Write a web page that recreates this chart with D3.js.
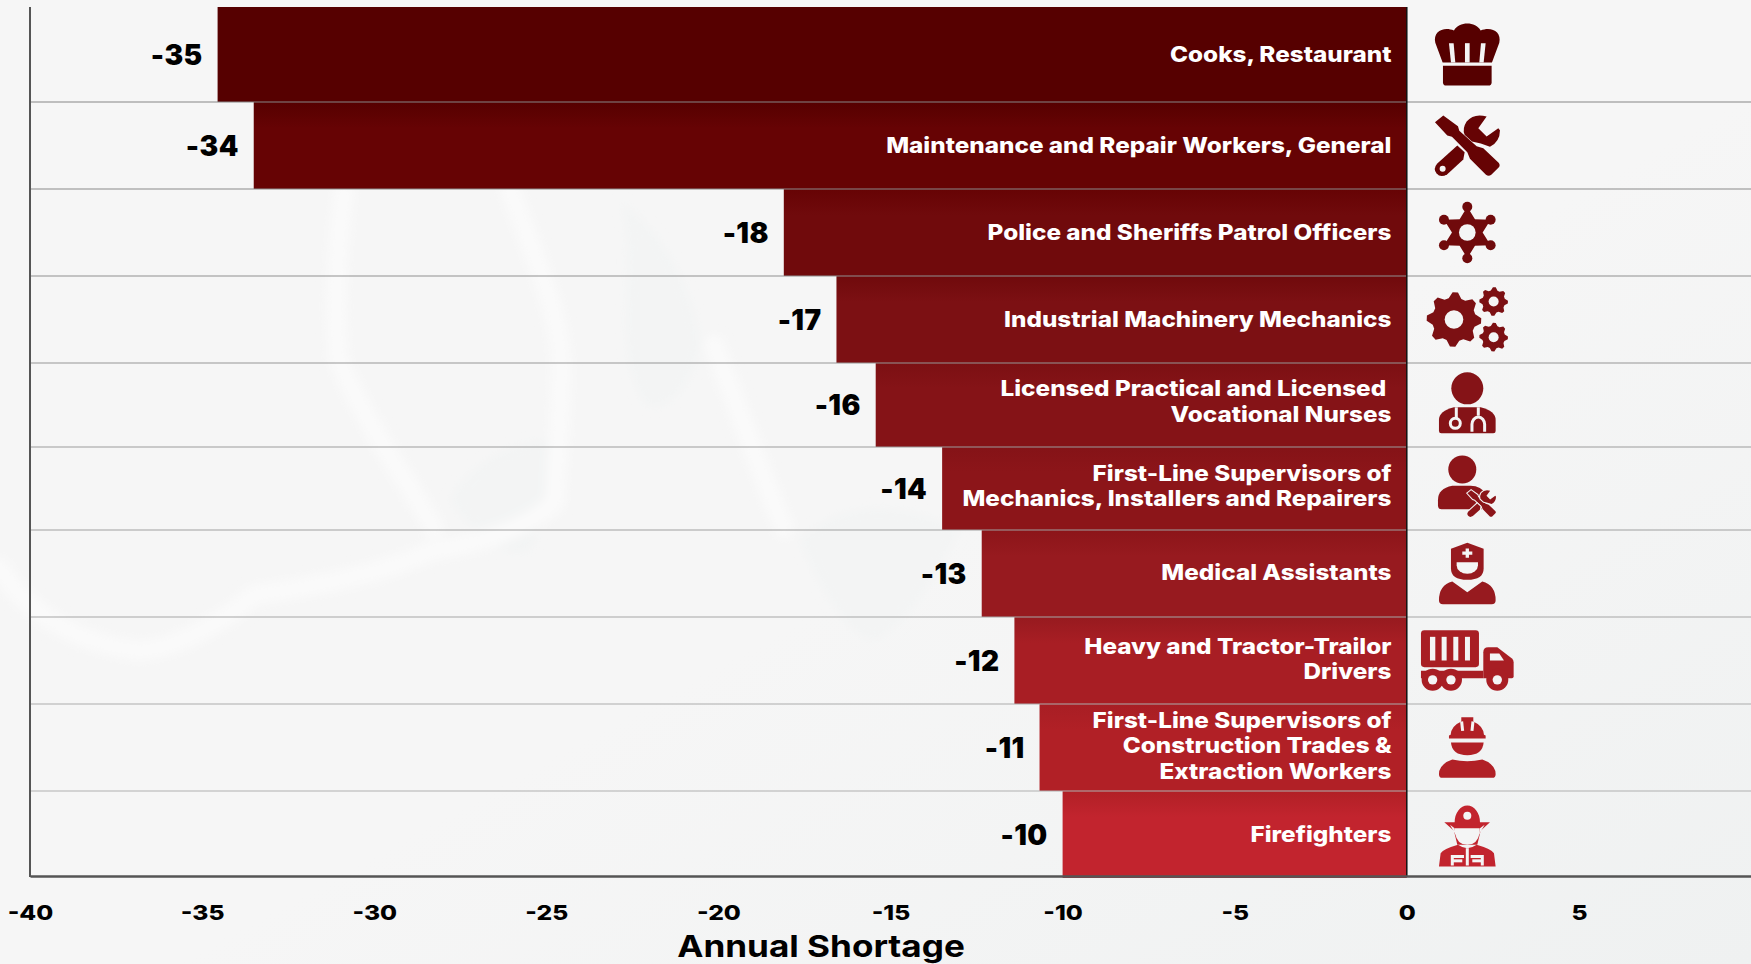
<!DOCTYPE html>
<html>
<head>
<meta charset="utf-8">
<script src="https://cdn.jsdelivr.net/npm/d3@7"></script>
<style>
    html, body { margin: 0; padding: 0; background: #f5f6f6; overflow: hidden; }
    text { font-family: Inter, "DejaVu Sans", sans-serif; white-space: pre; }
</style>
</head>
<body>
<script>
// chart values
var categories = [
    ["Cooks, Restaurant"],
    ["Maintenance and Repair Workers, General"],
    ["Police and Sheriffs Patrol Officers"],
    ["Industrial Machinery Mechanics"],
    ["Licensed Practical and Licensed ", "Vocational Nurses"],
    ["First-Line Supervisors of", "Mechanics, Installers and Repairers"],
    ["Medical Assistants"],
    ["Heavy and Tractor-Trailor", "Drivers"],
    ["First-Line Supervisors of", "Construction Trades &", "Extraction Workers"],
    ["Firefighters"]
];
var shortage = [-34.55, -33.5, -18.1, -16.57, -15.43, -13.5, -12.35, -11.4, -10.67, -10.0];
var shortageLabels = ["-35", "-34", "-18", "-17", "-16", "-14", "-13", "-12", "-11", "-10"];
var xTicks = [-40, -35, -30, -25, -20, -15, -10, -5, 0, 5];
var xTitle = "Annual Shortage";

// row layout and colours
var rowEdges = [7, 102, 189, 276, 363, 447, 530, 617, 704, 791, 878];
var nameNudge = [0, 0, 0, 0, -3, -2, -1, -1, -1, 0];
var barColors = ["#560000", "#660304", "#700a0c", "#7c1013", "#851317", "#8c1519", "#971a1f", "#a81e24", "#b12026", "#c2242e"];
var bg = "#f4f5f5";

// faint map behind the chart
var mapLight = [
    "M510,189C535,260 565,320 561,381C560,440 555,480 555,501C530,530 470,545 434,550C380,575 320,585 255,595C200,640 150,655 128,649C70,640 25,610 0,568",
    "M344,193C335,260 335,310 338,358C360,410 385,450 408,484C420,505 430,520 434,528",
    "M714,345C735,400 760,470 784,528"
];
var mapDark = [
    "M620,200C640,260 612,340 640,395C655,430 700,380 700,340C690,280 660,230 620,200Z",
    "M800,540C820,590 850,640 875,640C900,630 930,590 960,530C900,500 840,500 800,540Z",
    "M450,500C470,530 500,560 530,550C545,520 555,480 550,440C520,440 470,460 450,500Z"
];

// small path helpers for the icons (icon units are 3x screen pixels)
function dot(x, y, r) {
    return "M" + (x - r) + "," + y + "a" + r + "," + r + " 0 1 0 " + (2 * r) + ",0a" + r + "," + r + " 0 1 0 " + (-2 * r) + ",0Z";
}
function gear(x, y, r, teeth) {
    var pts = [], n = teeth * 4;
    for (var i = 0; i < n; i++) {
        var a = (i + 0.5) / n * 2 * Math.PI - Math.PI / 2 - Math.PI / teeth / 2 + Math.PI / n / 2;
        var rr = (i % 4 < 2) ? r : r * 0.8;
        pts.push([x + rr * Math.cos(a), y + rr * Math.sin(a)]);
    }
    return d3.line().curve(d3.curveLinearClosed)(pts);
}
var toolDriver = "M-97,-70L-72,-90L-28,-58L-24,-44L28,2L48,8L94,52Q100,60 94,66L72,88Q64,94 56,88L8,40L0,20L-46,-26L-60,-30Z";
var toolWrench = "M58,-87Q20,-98 -2,-72Q-16,-50 -8,-32L14,-12Q40,-8 68,4Q98,-12 98,-46L93,-52L58,-27L33,-52Z";
var toolHandle = "M-30,0L-8,20L-12,42L-60,86Q-80,98 -92,84Q-104,70 -90,54Z";

var icons = [
    { fill: ["M-74,24L-96,-35C-104,-70 -70,-85 -40,-72C-25,-100 25,-100 40,-72C70,-85 104,-70 96,-35L74,24Z", "M-73,34H73V83Q73,93 63,93H-63Q-73,93 -73,83Z"],
      cut: ["M-55,-34H-41L-36,24H-49Z", "M-7,-34H7V24H-7Z", "M41,-34H55L49,24H36Z"] },
    { fill: [toolDriver, toolWrench, toolHandle], cut: [dot(-74, 70, 9)] },
    { fill: ["M0,-77L23,-40L70,-38L46,0L70,38L23,40L0,77L-23,40L-70,38L-46,0L-70,-38L-23,-40Z", dot(0, -77, 15), dot(70, -38, 15), dot(70, 38, 15), dot(0, 77, 15), dot(-70, 38, 15), dot(-70, -38, 15)],
      cut: [dot(0, 0, 25)] },
    { fill: [gear(-40, 0, 82, 8), gear(79, -54, 43, 8), gear(79, 53, 43, 8)],
      cut: [dot(-40, 0, 28), dot(79, -54, 15), dot(79, 53, 15)] },
    { fill: [dot(0, -50, 48), "M-85,78V45Q-85,18 -40,7H40Q85,18 85,45V78Q85,85 78,85H-78Q-85,85 -85,78Z"],
      line: ["M-33,7V40", dot(-36, 55, 15), "M33,7V32", "M14,80V58A19,22 0 0 1 52,58V80"] },
    { fill: [dot(-15, -57, 42), "M-88,50V35Q-88,0 -45,-8H10Q40,-8 60,20L60,62H-78Q-88,62 -88,50Z"],
      tool: { x: 43, y: 45, k: 0.44 } },
    { fill: ["M0,-92L49,-74V-15Q49,19 0,19Q-49,19 -49,-15V-74Z", "M-85,80Q-85,35 -45,24L0,56L45,24Q85,35 85,80Q85,92 73,92H-73Q-85,92 -85,80Z"],
      cut: ["M-5,-75H5V-66H15V-56H5V-47H-5V-56H-15V-66H-5Z", "M-32,-34H32V-25A32,26 0 0 1 -32,-25Z"] },
    { fill: ["M-139,-81Q-139,-91 -129,-91H25Q35,-91 35,-81V10Q35,20 25,20H-129Q-139,20 -139,10Z", "M-139,31H48V53H-139Z", "M48,-25Q48,-40 63,-40H90L135,-5Q139,0 139,5V48Q139,53 134,53H48Z", dot(-104, 58, 33), dot(-49, 58, 33), dot(90, 58, 33)],
      cut: ["M-112,-71H-96V0H-112Z", "M-77,-71H-62V0H-77Z", "M-42,-71H-27V0H-42Z", "M-7,-71H8V0H-7Z", "M68,-21H96L110,0H68Z", dot(-104, 58, 14), dot(-49, 58, 14), dot(90, 58, 14)] },
    { fill: ["M-55,-27V-36L-50,-38Q-48,-65 -18,-78V-91H18V-78Q48,-65 50,-38L55,-36V-27Z", "M-49,-15H49Q46,23 0,23Q-46,23 -49,-15Z", "M-85,80Q-85,50 -45,36Q0,46 45,36Q85,50 85,80Q85,91 75,91H-75Q-85,91 -85,80Z"],
      line: ["M-17,-78L-14,-50", "M17,-78L14,-50"] },
    { fill: ["M-69,-38H-38A38,50 0 0 1 38,-38H68L40,-12L30,30H-30L-40,-12Z", "M-85,95L-80,55Q-70,42 -28,30Q0,50 28,30Q70,42 80,55L85,95Z"],
      cut: [dot(0, -57, 12), "M-37,-20H37V-5Q30,30 0,30Q-30,30 -37,-5Z", "M-52,-30L-38,-20L-35,0Z", "M52,-30L38,-20L35,0Z"],
      line: ["M0,40V92", "M-45,92V65H-10", "M-45,78H-15", "M45,92V65H10", "M45,78H15"], dy: 1 }
];

var width = 1751, height = 964;

var svg = d3.select("body").append("svg")
    .attr("width", width)
    .attr("height", height)
    .style("display", "block");

var defs = svg.append("defs");

var pageFill = defs.append("linearGradient").attr("id", "page")
    .attr("x1", 0).attr("y1", 0).attr("x2", 1).attr("y2", 1);
pageFill.append("stop").attr("offset", "55%").attr("stop-color", "#f6f6f6");
pageFill.append("stop").attr("offset", "100%").attr("stop-color", "#eff1f1");

defs.append("filter").attr("id", "soft")
    .append("feGaussianBlur").attr("stdDeviation", 5);

svg.append("rect").attr("width", width).attr("height", height).attr("fill", "url(#page)");

var map = svg.append("g").attr("filter", "url(#soft)");
map.selectAll("path.dark")
    .data(mapDark)
    .enter().append("path")
    .attr("class", "dark")
    .attr("d", function (d) { return d; })
    .attr("fill", "#f3f4f4");
map.selectAll("path.light")
    .data(mapLight)
    .enter().append("path")
    .attr("class", "light")
    .attr("d", function (d) { return d; })
    .attr("fill", "none")
    .attr("stroke", "#fafafa")
    .attr("stroke-width", 20)
    .attr("stroke-linecap", "round");

var x = d3.scaleLinear().domain([-40, 10]).range([30, width]);
var y = d3.scaleOrdinal().domain(d3.range(categories.length)).range(rowEdges);
var rowH = function (i) { return rowEdges[i + 1] - rowEdges[i]; };

// each bar starts with the previous bar's colour and fades to its own
var grads = defs.selectAll("linearGradient.bar")
    .data(shortage)
    .enter().append("linearGradient")
    .attr("class", "bar")
    .attr("id", function (d, i) { return "bar" + i; })
    .attr("x1", 0).attr("y1", 0).attr("x2", 0).attr("y2", 1);
grads.append("stop").attr("offset", "0%").attr("stop-color", function (d, i) { return barColors[Math.max(i - 1, 0)]; });
grads.append("stop").attr("offset", "30%").attr("stop-color", function (d, i) { return barColors[i]; });

svg.selectAll("rect.bar")
    .data(shortage)
    .enter().append("rect")
    .attr("class", "bar")
    .attr("x", function (d) { return x(d); })
    .attr("y", function (d, i) { return y(i); })
    .attr("width", function (d) { return x(0) - x(d); })
    .attr("height", function (d, i) { return rowH(i); })
    .attr("fill", function (d, i) { return "url(#bar" + i + ")"; });

// row separators, they run over the bars too
svg.selectAll("line.row")
    .data(rowEdges.slice(1, -1))
    .enter().append("line")
    .attr("class", "row")
    .attr("x1", x(-40)).attr("x2", width)
    .attr("y1", function (d) { return d; }).attr("y2", function (d) { return d; })
    .attr("stroke", function (d, i) { return d3.interpolateRgb("#858585", "#b0b0b0")(i / 8); })
    .attr("stroke-width", 1.2);

// left axis line and zero line
svg.append("line").attr("x1", x(-40)).attr("x2", x(-40)).attr("y1", rowEdges[0]).attr("y2", 877)
    .attr("stroke", "#555").attr("stroke-width", 2);
svg.append("line").attr("x1", x(0)).attr("x2", x(0)).attr("y1", rowEdges[0]).attr("y2", 877)
    .attr("stroke", "#111").attr("stroke-width", 1.5);

var axis = svg.append("g")
    .attr("transform", "translate(0,876)")
    .call(d3.axisBottom(x).tickValues(xTicks).tickSize(0).tickPadding(29).tickFormat(d3.format("d")));
axis.select(".domain").attr("stroke", "#555").attr("stroke-width", 2.4);
axis.selectAll("text")
    .attr("fill", "#000")
    .attr("transform", "scale(1.2,1)")
    .style("font-size", "20.5px")
    .style("font-weight", 800)
    .style("font-family", "Inter, sans-serif")
    .text(function (d) { return String(d); });

svg.append("text")
    .attr("transform", "translate(821,957) scale(1.15,1)")
    .attr("text-anchor", "middle")
    .attr("fill", "#000")
    .style("font-size", "30.5px")
    .style("font-weight", 700)
    .text(xTitle);

// value labels to the left of each bar
svg.selectAll("text.value")
    .data(shortage)
    .enter().append("text")
    .attr("class", "value")
    .attr("x", function (d) { return x(d) - 15; })
    .attr("y", function (d, i) { return y(i) + rowH(i) / 2 + 10; })
    .attr("text-anchor", "end")
    .attr("fill", "#000")
    .style("font-size", "28px")
    .style("font-weight", 900)
    .style("letter-spacing", "0.4px")
    .text(function (d, i) { return shortageLabels[i]; });

// category names inside the bars, right aligned
var names = svg.selectAll("text.name")
    .data(categories)
    .enter().append("text")
    .attr("class", "name")
    .attr("text-anchor", "end")
    .attr("fill", "#fff")
    .style("font-size", "21.5px")
    .style("font-weight", 800)
    .attr("transform", function (d, i) {
        var top = y(i) + rowH(i) / 2 - (d.length - 1) * 12.75 + 7 + nameNudge[i];
        return "translate(1391.5," + top + ") scale(1.13,1)";
    });
names.selectAll("tspan")
    .data(function (d) { return d; })
    .enter().append("tspan")
    .attr("x", 0)
    .attr("dy", function (d, i) { return i ? 25.5 : 0; })
    .text(function (d) { return d; });

// pictograms right of the zero line
var icon = svg.selectAll("g.icon")
    .data(icons)
    .enter().append("g")
    .attr("class", "icon")
    .attr("transform", function (d, i) {
        return "translate(" + (x(0) + 60.5) + "," + (y(i) + rowH(i) / 2) + ") scale(" + (1 / 3) + ") translate(0," + (d.dy || 0) + ")";
    });
icon.each(function (d, i) {
    var g = d3.select(this), col = barColors[i];
    (d.fill || []).forEach(function (p) { g.append("path").attr("d", p).attr("fill", col); });
    (d.cut || []).forEach(function (p) { g.append("path").attr("d", p).attr("fill", bg); });
    (d.line || []).forEach(function (p) { g.append("path").attr("d", p).attr("fill", "none").attr("stroke", bg).attr("stroke-width", 9); });
    if (d.tool) {
        var t = g.append("g").attr("transform", "translate(" + d.tool.x + "," + d.tool.y + ") scale(" + d.tool.k + ")");
        [toolDriver, toolWrench, toolHandle].forEach(function (p) {
            t.append("path").attr("d", p).attr("fill", col).attr("stroke", bg).attr("stroke-width", 14).attr("paint-order", "stroke");
        });
    }
});
</script>
</body>
</html>
